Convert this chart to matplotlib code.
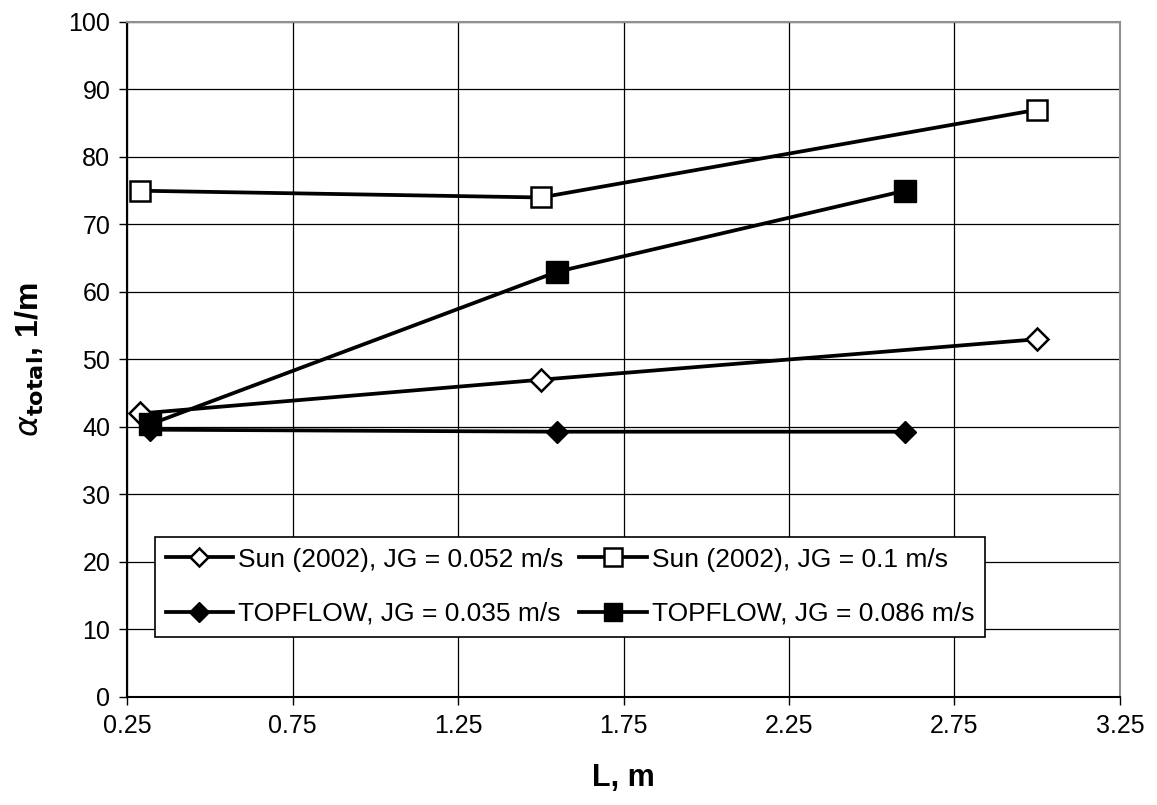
import matplotlib.pyplot as plt
import numpy as np

plt.rcParams['font.family'] = ['Liberation Sans', 'DejaVu Sans']

# data
sun_x = [0.29, 1.50, 3.00]
sun_052 = [42.0, 47.0, 53.0]
sun_100 = [75.0, 74.0, 87.0]
top_x = [0.32, 1.55, 2.60]
top_035 = [39.6, 39.3, 39.3]
top_086 = [40.4, 63.0, 75.0]

labels = ["Sun (2002), JG = 0.052 m/s", "Sun (2002), JG = 0.1 m/s",
          "TOPFLOW, JG = 0.035 m/s", "TOPFLOW, JG = 0.086 m/s"]
x_ticks = [0.25, 0.75, 1.25, 1.75, 2.25, 2.75, 3.25]
y_ticks = list(range(0, 101, 10))

fig = plt.figure(figsize=(11.57, 8.05), dpi=100)
ax = fig.add_axes([0.1098, 0.1342, 0.8582, 0.8385])

LW = 2.7
ax.plot(sun_x, sun_052, color="black", lw=LW, marker="D", ms=11, mfc="white",
        mec="black", mew=1.8, label=labels[0], zorder=4)
ax.plot(top_x, top_035, color="black", lw=LW, marker="D", ms=11.5, mfc="black",
        mec="black", label=labels[2], zorder=4)
ax.plot(sun_x, sun_100, color="black", lw=LW, marker="s", ms=15, mfc="white",
        mec="black", mew=1.8, label=labels[1], zorder=4)
ax.plot(top_x, top_086, color="black", lw=LW, marker="s", ms=16, mfc="black",
        mec="black", label=labels[3], zorder=4)

ax.set_xlim(0.25, 3.25)
ax.set_ylim(0, 100)
ax.set_xticks(x_ticks)
ax.set_xticklabels([f"{v:.2f}" for v in x_ticks])
ax.set_yticks(y_ticks)
ax.tick_params(labelsize=18, length=6, width=1, direction="out", pad=6)
ax.grid(True, color="black", lw=0.9, zorder=1)
ax.set_axisbelow(True)

for s in ["top", "right"]:
    ax.spines[s].set_color("#909090")
    ax.spines[s].set_linewidth(1.5)
for s in ["left", "bottom"]:
    ax.spines[s].set_color("black")
    ax.spines[s].set_linewidth(1.5)

ax.set_xlabel("L, m", fontsize=22, fontweight="bold", labelpad=18)
ax.set_ylabel(r"$\alpha_{\mathbf{total}}$, 1/m", fontsize=23, fontweight="bold", labelpad=16)

h, l = ax.get_legend_handles_labels()
leg = ax.legend(h, l, ncol=2,
                loc="lower left", bbox_to_anchor=(0.015, 0.07),
                fontsize=19, frameon=True, fancybox=False, edgecolor="black",
                framealpha=1, handlelength=2.55, handletextpad=0.2,
                columnspacing=0.6, labelspacing=1.15, borderpad=0.4,
                markerscale=0.85)
leg.get_frame().set_linewidth(1.2)
leg.set_zorder(5)

fig.savefig("out.png", dpi=100)
